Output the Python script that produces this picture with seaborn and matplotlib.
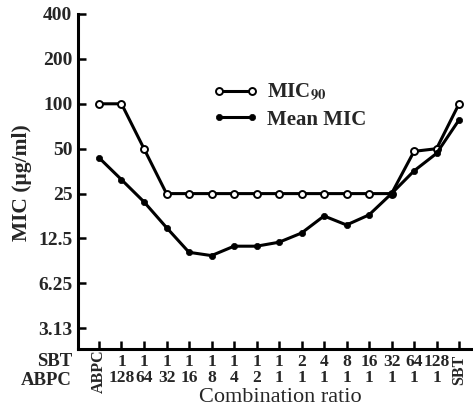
import numpy as np
import pandas as pd
import matplotlib
matplotlib.use("Agg")
import matplotlib.pyplot as plt
import seaborn as sns

# ---- data ----
sbt_row = ["ABPC", "1", "1", "1", "1", "1", "1", "1", "1", "2", "4", "8", "16", "32", "64", "128", "SBT"]
abpc_row = ["", "128", "64", "32", "16", "8", "4", "2", "1", "1", "1", "1", "1", "1", "1", "1", ""]
mic90 = [100, 100, 50, 25, 25, 25, 25, 25, 25, 25, 25, 25, 25, 25, 48, 50, 100]
mean_mic = [43.5, 31, 22, 14.8, 10.1, 9.6, 11.1, 11.1, 11.8, 13.6, 17.7, 15.4, 18.0, 25, 35.5, 46.5, 78]
ytick_vals = [3.125, 6.25, 12.5, 25, 50, 100, 200, 400]
ytick_labels = ["3.13", "6.25", "12.5", "25", "50", "100", "200", "400"]

W, H = 473, 408
sns.set_theme(style="ticks")
plt.rcParams["font.family"] = ["Liberation Serif", "DejaVu Serif"]
plt.rcParams["mathtext.fontset"] = "stix"

fig = plt.figure(figsize=(W / 100, H / 100), dpi=100)
ax = fig.add_axes([78 / W, (H - 349) / H, (473 - 78) / W, (349 - 14) / H])

n = len(mic90)
idx = np.arange(n)
df = pd.concat([
    pd.DataFrame({"x": idx, "MIC": mic90, "series": "MIC90"}),
    pd.DataFrame({"x": idx, "MIC": mean_mic, "series": "Mean MIC"}),
])

lw = 2.2
sns.lineplot(data=df[df.series == "MIC90"], x="x", y="MIC", ax=ax, color="black",
             lw=lw, marker="o", markersize=5, markerfacecolor="white",
             markeredgecolor="black", markeredgewidth=1.4, label="MIC$_{\\mathbf{90}}$")
sns.lineplot(data=df[df.series == "Mean MIC"], x="x", y="MIC", ax=ax, color="black",
             lw=lw, marker="o", markersize=4.5, markerfacecolor="black",
             markeredgecolor="black", markeredgewidth=0.5, label="Mean MIC")

ax.set_yscale("log", base=2)
ax.set_ylim(2.27, 400)
ax.set_xlim(-0.933, 16.62)
ax.set_yticks(ytick_vals)
ax.set_yticklabels(ytick_labels, fontsize=14, fontweight="bold")
ax.minorticks_off()
ax.set_xticks(idx)
ax.set_xticklabels([])
ax.tick_params(axis="both", direction="in", length=6, width=1.8, color="black")
ax.tick_params(axis="y", pad=4)
for s in ["top", "right"]:
    ax.spines[s].set_visible(False)
for s in ["left", "bottom"]:
    ax.spines[s].set_linewidth(2.2)
    ax.spines[s].set_color("black")
ax.set_xlabel("")
ax.set_ylabel("")

# x tick label rows
def fy(py):
    return (H - py) / H

trans = matplotlib.transforms.blended_transform_factory(ax.transData, fig.transFigure)
for i in range(n):
    if i == 0 or i == n - 1:
        ax.text(i, fy(371 if i == 0 else 370), sbt_row[i], transform=trans, rotation=90,
                ha="center", va="center", fontsize=11.5, fontweight="bold")
    else:
        ax.text(i, fy(362), sbt_row[i], transform=trans, ha="center", va="center",
                fontsize=12.5, fontweight="bold")
        ax.text(i, fy(378), abpc_row[i], transform=trans, ha="center", va="center",
                fontsize=12.5, fontweight="bold")

fig.text(72 / W, fy(361), "SBT", ha="right", va="center", fontsize=13.5, fontweight="bold")
fig.text(72 / W, fy(380.5), "ABPC", ha="right", va="center", fontsize=13.5, fontweight="bold")
fig.text(280 / W, fy(397), "Combination ratio", ha="center", va="center", fontsize=16)
fig.text(22 / W, fy(183), "MIC (μg/ml)", ha="center", va="center", rotation=90,
         fontsize=15.5, fontweight="bold")

leg = ax.legend(loc="upper left", bbox_to_anchor=(194 / W, fy(63)), bbox_transform=fig.transFigure,
                frameon=False, numpoints=2, handlelength=2.2, handletextpad=0.4,
                labelspacing=0.3, prop={"size": 15, "weight": "bold"})

fig.savefig("out.png", dpi=100, facecolor="white")
